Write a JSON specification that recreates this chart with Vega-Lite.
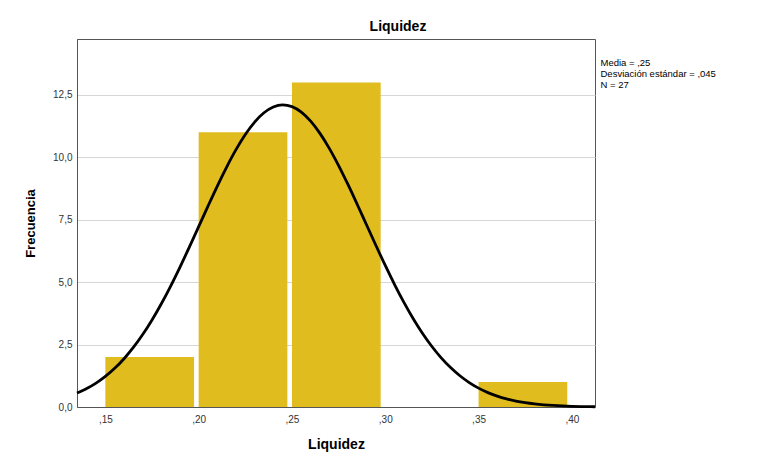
{
  "$schema": "https://vega.github.io/schema/vega-lite/v6.json",
  "width": 518,
  "height": 368,
  "autosize": {"type": "none"},
  "padding": {"left": 77, "top": 39, "right": 187, "bottom": 54},
  "background": "white",
  "title": {"text": "Liquidez", "fontSize": 14, "font": "Liberation Sans", "fontWeight": "bold", "color": "#000000", "dx": 62, "offset": 5},
  "config": {
    "font": "Liberation Sans",
    "view": {"fill": "#f5f5f5", "stroke": "#555555", "strokeWidth": 1}
  },
  "layer": [
    {
      "data": {"values": [
        {"lo": 0.15, "hi": 0.20, "count": 2},
        {"lo": 0.20, "hi": 0.25, "count": 11},
        {"lo": 0.25, "hi": 0.30, "count": 13},
        {"lo": 0.30, "hi": 0.35, "count": 0},
        {"lo": 0.35, "hi": 0.40, "count": 1}
      ]},
      "mark": {"type": "bar", "color": "#e0bc1f", "x2Offset": -4.6},
      "encoding": {
        "x": {
          "field": "lo", "type": "quantitative",
          "scale": {"domain": [0.1348, 0.4124], "nice": false, "zero": false},
          "axis": {
            "title": "Liquidez", "titleFontSize": 14, "titleFontWeight": "bold", "titleColor": "#000000", "titlePadding": 13,
            "values": [0.15, 0.2, 0.25, 0.3, 0.35, 0.4],
            "labelExpr": "replace(format(datum.value, '.2f'), '0.', ',')",
            "labelFontSize": 10, "labelColor": "#333333", "labelPadding": 7,
            "ticks": false, "grid": false, "domainColor": "#555555"
          }
        },
        "x2": {"field": "hi"},
        "y": {
          "field": "count", "type": "quantitative",
          "scale": {"domain": [0, 14.74], "nice": false, "padding": 0},
          "axis": {
            "title": "Frecuencia", "titleFontSize": 13, "titleFontWeight": "bold", "titleColor": "#000000", "titlePadding": 15,
            "values": [0, 2.5, 5, 7.5, 10, 12.5],
            "labelExpr": "replace(format(datum.value, '.1f'), '.', ',')",
            "labelFontSize": 10, "labelColor": "#333333", "labelPadding": 5,
            "ticks": false, "grid": true, "gridColor": "#d6d6d6", "domainColor": "#555555"
          }
        },
        "y2": {"datum": 0}
      }
    },
    {
      "data": {"values": [
        {"x": 0.1348, "y": 0.557}, {"x": 0.14, "y": 0.740}, {"x": 0.145, "y": 0.959}, {"x": 0.15, "y": 1.227},
        {"x": 0.155, "y": 1.551}, {"x": 0.16, "y": 1.935}, {"x": 0.165, "y": 2.385}, {"x": 0.17, "y": 2.901},
        {"x": 0.175, "y": 3.487}, {"x": 0.18, "y": 4.137}, {"x": 0.185, "y": 4.846}, {"x": 0.19, "y": 5.606},
        {"x": 0.195, "y": 6.404}, {"x": 0.20, "y": 7.224}, {"x": 0.205, "y": 8.046}, {"x": 0.21, "y": 8.850},
        {"x": 0.215, "y": 9.611}, {"x": 0.22, "y": 10.307}, {"x": 0.225, "y": 10.915}, {"x": 0.23, "y": 11.414},
        {"x": 0.235, "y": 11.786}, {"x": 0.24, "y": 12.018}, {"x": 0.245, "y": 12.100}, {"x": 0.25, "y": 12.030},
        {"x": 0.255, "y": 11.810}, {"x": 0.26, "y": 11.449}, {"x": 0.265, "y": 10.960}, {"x": 0.27, "y": 10.360},
        {"x": 0.275, "y": 9.670}, {"x": 0.28, "y": 8.913}, {"x": 0.285, "y": 8.111}, {"x": 0.29, "y": 7.290},
        {"x": 0.295, "y": 6.469}, {"x": 0.30, "y": 5.669}, {"x": 0.305, "y": 4.905}, {"x": 0.31, "y": 4.191},
        {"x": 0.315, "y": 3.536}, {"x": 0.32, "y": 2.946}, {"x": 0.325, "y": 2.424}, {"x": 0.33, "y": 1.969},
        {"x": 0.335, "y": 1.579}, {"x": 0.34, "y": 1.251}, {"x": 0.345, "y": 0.979}, {"x": 0.35, "y": 0.756},
        {"x": 0.355, "y": 0.576}, {"x": 0.36, "y": 0.434}, {"x": 0.365, "y": 0.323}, {"x": 0.37, "y": 0.237},
        {"x": 0.375, "y": 0.172}, {"x": 0.38, "y": 0.123}, {"x": 0.385, "y": 0.087}, {"x": 0.39, "y": 0.061},
        {"x": 0.395, "y": 0.042}, {"x": 0.40, "y": 0.029}, {"x": 0.405, "y": 0.019}, {"x": 0.41, "y": 0.013},
        {"x": 0.4124, "y": 0.010}
      ]},
      "mark": {"type": "line", "color": "#000000", "strokeWidth": 2.8, "interpolate": "monotone"},
      "encoding": {
        "x": {"field": "x", "type": "quantitative"},
        "y": {"field": "y", "type": "quantitative"}
      }
    },
    {
      "data": {"values": [
        {"stat": "Media = ,25"},
        {"stat": "Desviación estándar = ,045"},
        {"stat": "N = 27"}
      ]},
      "mark": {"type": "point", "opacity": 0},
      "encoding": {
        "color": {
          "field": "stat", "type": "nominal",
          "scale": {"domain": ["Media = ,25", "Desviación estándar = ,045", "N = 27"], "range": ["#000000", "#000000", "#000000"]},
          "legend": {
            "orient": "none", "legendX": 514, "legendY": 19, "title": null,
            "symbolSize": 0, "symbolOpacity": 0, "symbolStrokeWidth": 0, "labelOffset": 0,
            "labelFontSize": 9.5, "labelColor": "#000000", "rowPadding": 0, "padding": 0
          }
        }
      }
    }
  ]
}
